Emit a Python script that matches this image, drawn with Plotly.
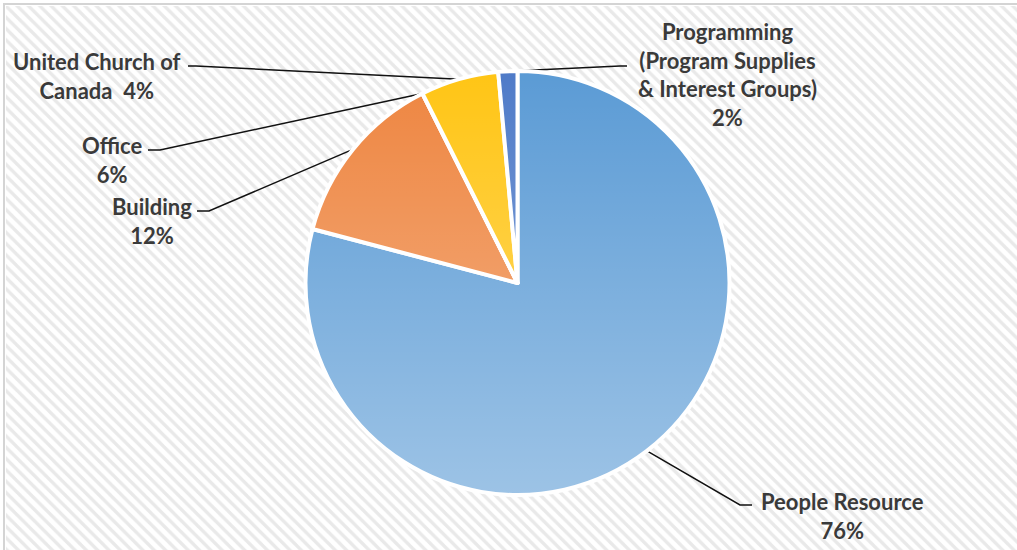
import math
import base64
import plotly.graph_objects as go

# ---------------- data ----------------
categories = [
    "People Resource",
    "Building",
    "Office",
    "United Church of Canada",
    "Programming (Program Supplies & Interest Groups)",
]
# shares as actually drawn by the slices in the picture (Office slice has no width)
plotted_share = [79.1, 13.5, 0.0, 5.95, 1.45]
# percentages printed in the data labels
label_pct = ["76%", "12%", "6%", "4%", "2%"]
label_name = [
    "People Resource",
    "Building",
    "Office",
    "United Church of<br>Canada ",
    "Programming<br>(Program Supplies<br>& Interest Groups)",
]
slice_colors = ["#5B9BD5", "#EE8540", "#A5A5A5", "#FFC515", "#4F7BC8"]

# ---------------- layout constants ----------------
W, H = 1017, 550
CX, CY, R = 517.5, 283.0, 212.0
label_pos = [(842, 516), (152, 221), (112, 160), (97, 75.5), (727, 74.5)]
label_sep = ["<br>", "<br>", "<br>", " ", "<br>"]
leader_start = [(752, 505), (197, 211), (148, 150), (188, 66), (627, 66)]
leader_elbow = [(740, 505), (209, 211), (160, 150), (196, 66), (620, 66)]
TEXT_COLOR = "#3a3a3a"
FONT = "Lato"

fig = go.Figure()

# hatched background
fig.add_trace(go.Scatter(
    x=[6, W + 5, W + 5, 6, 6], y=[6, 6, H + 5, H + 5, 6],
    mode="lines", fill="toself", line=dict(width=0),
    fillcolor="white",
    fillpattern=dict(shape="\\", size=8, solidity=0.42,
                     fgcolor="#d3d3d3", bgcolor="white"),
    hoverinfo="skip", showlegend=False,
))

# leader lines, ending on the middle of each slice's arc
total = sum(plotted_share)
cum = 0.0
for i, v in enumerate(plotted_share):
    mid = (cum + v / 2.0) / total * 2 * math.pi
    cum += v
    px = CX + R * math.sin(mid)
    py = CY - R * math.cos(mid)
    (sx, sy), (ex, ey) = leader_start[i], leader_elbow[i]
    fig.add_trace(go.Scatter(
        x=[sx, ex, px], y=[sy, ey, py], mode="lines",
        line=dict(color="#111111", width=1.5),
        hoverinfo="skip", showlegend=False,
    ))

# the pie
fig.add_trace(go.Pie(
    labels=categories, values=plotted_share,
    sort=False, direction="clockwise", rotation=0,
    marker=dict(colors=slice_colors, line=dict(color="white", width=4)),
    textinfo="none", hoverinfo="label+percent", showlegend=False,
    domain=dict(x=[(CX - R) / W, (CX + R) / W],
                y=[(H - CY - R) / H, (H - CY + R) / H]),
))

# soft vertical light gradient over the pie (Excel-style gradient fill)
svg = (
    "<svg xmlns='http://www.w3.org/2000/svg' width='424' height='424' viewBox='0 0 424 424'>"
    "<defs><linearGradient id='g' x1='0' y1='0' x2='0' y2='1'>"
    "<stop offset='0' stop-color='white' stop-opacity='0'/>"
    "<stop offset='1' stop-color='white' stop-opacity='0.4'/>"
    "</linearGradient></defs>"
    "<circle cx='212' cy='212' r='212' fill='url(#g)'/></svg>"
)
src = "data:image/svg+xml;base64," + base64.b64encode(svg.encode()).decode()
fig.add_layout_image(dict(
    source=src, xref="x", yref="y", x=CX - R, y=CY - R,
    sizex=2 * R, sizey=2 * R, sizing="stretch",
    xanchor="left", yanchor="top", layer="above",
))

for (x, y), name, sep, pct in zip(label_pos, label_name, label_sep, label_pct):
    fig.add_annotation(
        x=x, y=y, xref="x", yref="y", text="<b>" + name + sep + pct + "</b>",
        showarrow=False, align="center", xanchor="center", yanchor="middle",
        font=dict(family=FONT, size=22, color=TEXT_COLOR),
    )

fig.update_layout(
    width=W, height=H,
    margin=dict(l=0, r=0, t=0, b=0),
    paper_bgcolor="white", plot_bgcolor="white",
    xaxis=dict(range=[0, W], visible=False, fixedrange=True),
    yaxis=dict(range=[H, 0], visible=False, fixedrange=True),
    shapes=[dict(type="rect", xref="x", yref="y", x0=4, y0=4, x1=W + 20, y1=H + 20,
                 line=dict(color="#d4d4d4", width=2), layer="above")],
)

fig.write_html(
    "out.html",
    config={"displayModeBar": False},
    post_script="document.body.style.margin='0';document.body.style.overflow='hidden';",
)
